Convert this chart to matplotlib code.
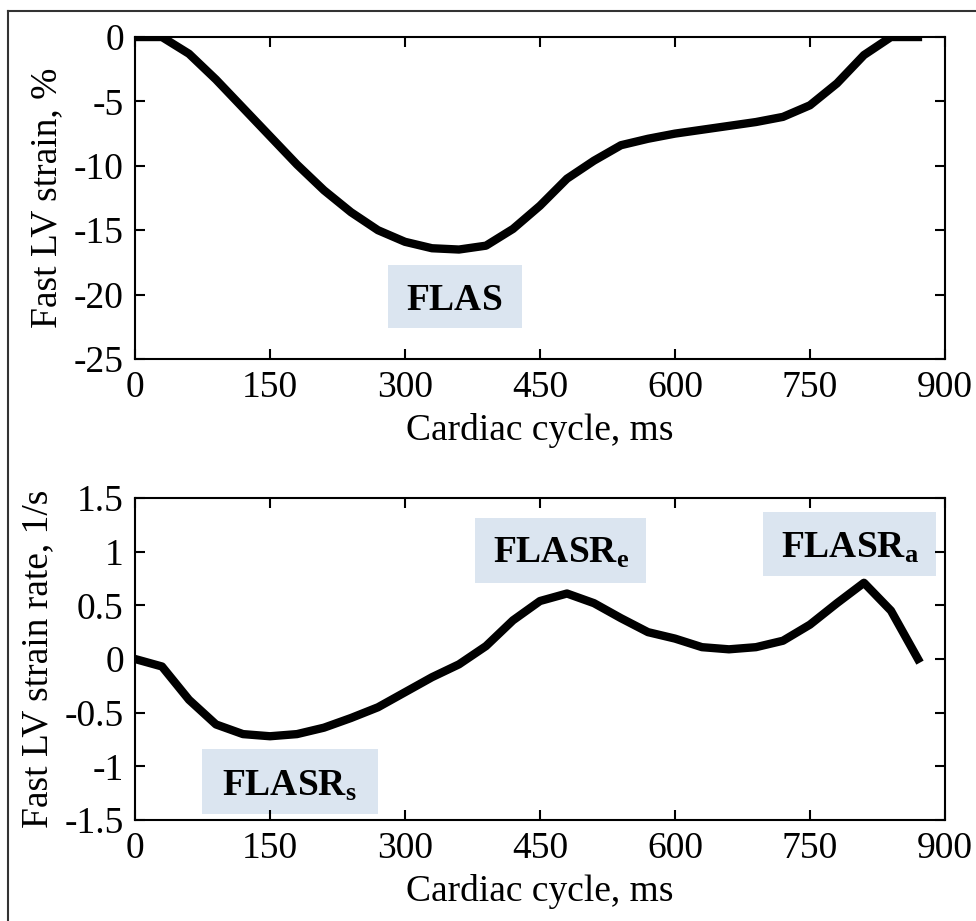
import matplotlib
matplotlib.use('Agg')
import matplotlib.pyplot as plt
from matplotlib.lines import Line2D
from matplotlib.patches import Rectangle

plt.rcParams['font.family'] = 'Liberation Serif'
plt.rcParams['mathtext.fontset'] = 'custom'
plt.rcParams['mathtext.rm'] = 'Liberation Serif'
plt.rcParams['mathtext.bf'] = 'Liberation Serif:bold'
plt.rcParams['axes.unicode_minus'] = False

# cardiac cycle time points (ms)
time_ms = [0, 30, 60, 90, 120, 150, 180, 210, 240, 270, 300, 330, 360, 390, 420,
           450, 480, 510, 540, 570, 600, 630, 660, 690, 720, 750, 780, 810, 840, 870]

# fast LV strain (%)
strain = [0, 0, -1.3, -3.3, -5.5, -7.7, -9.9, -11.9, -13.6, -15.0, -15.9, -16.4,
          -16.5, -16.2, -14.9, -13.1, -11.0, -9.6, -8.4, -7.9, -7.5, -7.2, -6.9,
          -6.6, -6.2, -5.3, -3.6, -1.4, 0, 0]

# fast LV strain rate (1/s)
strain_rate = [0, -0.07, -0.38, -0.61, -0.70, -0.72, -0.70, -0.64, -0.55, -0.45,
               -0.31, -0.17, -0.05, 0.12, 0.36, 0.54, 0.61, 0.52, 0.38, 0.25, 0.19,
               0.11, 0.09, 0.11, 0.17, 0.32, 0.52, 0.71, 0.45, 0.0]

x_ticks = [0, 150, 300, 450, 600, 750, 900]
strain_ticks = [0, -5, -10, -15, -20, -25]
rate_ticks = [1.5, 1, 0.5, 0, -0.5, -1, -1.5]
rate_tick_labels = ['1.5', '1', '0.5', '0', '-0.5', '-1', '-1.5']

box_color = '#dbe5f0'
fs = 27

fig = plt.figure(figsize=(9.76, 9.21), dpi=100)
ax1 = fig.add_axes([0.1383, 0.6102, 0.8299, 0.3496])
ax2 = fig.add_axes([0.1383, 0.1097, 0.8299, 0.3496])

# frame lines around the figure (left and top visible)
fig.add_artist(Line2D([0.0082, 0.0082], [0.0, 0.988], transform=fig.transFigure,
                      color='#333333', lw=1.5))
fig.add_artist(Line2D([0.0082, 1.0], [0.988, 0.988], transform=fig.transFigure,
                      color='#333333', lw=1.5))


def style_axes(ax):
    ax.set_xlim(0, 900)
    ax.set_xticks(x_ticks)
    ax.tick_params(direction='in', length=7, width=1.5, top=True, right=True,
                   labelsize=fs, pad=8)
    for s in ax.spines.values():
        s.set_linewidth(1.5)
    ax.set_xlabel('Cardiac cycle, ms', fontsize=fs, labelpad=6)


def label_box(ax, x0, y0, x1, y1, tx, ty, label):
    ax.add_patch(Rectangle((x0, y0), x1 - x0, y1 - y0, fc=box_color, ec='none',
                           zorder=1))
    ax.text(tx, ty, label, fontsize=fs, ha='center', va='baseline', zorder=3)


ax1.plot(time_ms, strain, color='black', lw=6, zorder=2)
style_axes(ax1)
ax1.set_ylim(-25, 0)
ax1.set_yticks(strain_ticks)
ax1.set_ylabel('Fast LV strain, %', fontsize=fs, labelpad=7)
label_box(ax1, 281, -22.6, 430, -17.7, 355, -21.2, r'$\mathbf{FLAS}$')

ax2.plot(time_ms, strain_rate, color='black', lw=6, zorder=2)
style_axes(ax2)
ax2.set_ylim(-1.5, 1.5)
ax2.set_yticks(rate_ticks)
ax2.set_yticklabels(rate_tick_labels)
ax2.set_ylabel('Fast LV strain rate, 1/s', fontsize=fs, labelpad=7)
label_box(ax2, 74, -1.44, 270, -0.84, 172, -1.27, r'$\mathbf{FLASR_s}$')
label_box(ax2, 378, 0.71, 568, 1.31, 473, 0.895, r'$\mathbf{FLASR_e}$')
label_box(ax2, 698, 0.77, 890, 1.37, 794, 0.94, r'$\mathbf{FLASR_a}$')

fig.savefig('out.png', dpi=100)
